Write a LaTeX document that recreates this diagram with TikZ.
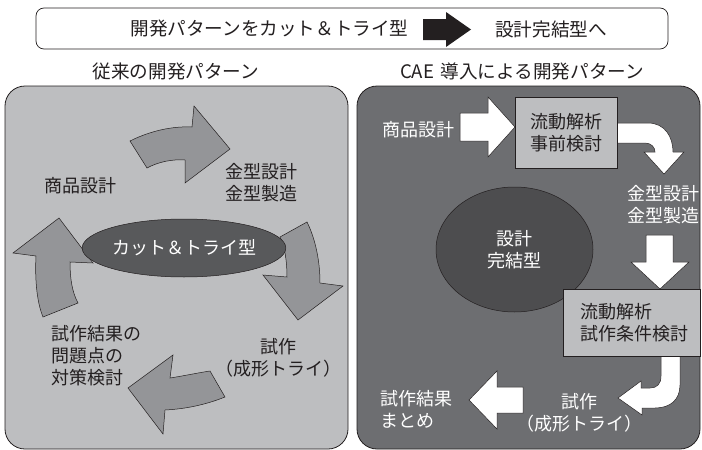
\documentclass[tikz,border=0pt]{standalone}
\usepackage{fontspec}
\setmainfont{Noto Sans CJK JP}
\usetikzlibrary{shapes.geometric}
\definecolor{ink}{RGB}{35,31,32}
\definecolor{lpanel}{RGB}{189,190,192}
\definecolor{larrow}{RGB}{148,149,152}
\definecolor{lell}{RGB}{88,89,91}
\definecolor{rpanel}{RGB}{109,110,113}
\definecolor{rell}{RGB}{77,77,79}
\definecolor{rbox}{RGB}{189,190,192}
\tikzset{
  txt/.style={font=\fontsize{18pt}{22pt}\selectfont, text=ink, inner sep=0pt, align=center},
  wtxt/.style={txt, text=white},
  head/.style={font=\fontsize{18.6pt}{22pt}\selectfont, text=ink, inner sep=0pt},
  panel/.style={draw=ink, line width=0.8pt, rounded corners=20pt},
  larr/.style={fill=larrow, draw=ink, line width=0.5pt, line join=miter},
  warr/.style={fill=white, draw=ink, line width=0.5pt, line join=miter},
  abox/.style={rectangle, fill=rbox, draw=ink, line width=0.5pt, inner sep=0pt}
}
\begin{document}
\begin{tikzpicture}[x=1pt,y=-1pt]
\useasboundingbox (0,0) rectangle (702,450);
% banner
\draw[draw=ink, line width=0.7pt, rounded corners=8pt, fill=white] (36,8) rectangle (668,49);
\node[head] (bl) at (269.5,29) {開発パターンをカット＆トライ型};
\node[head] (br) at (551,29) {設計完結型へ};
\fill[ink] (423,19) -- (446,19) -- (446,12) -- (471,29.5) -- (446,47) -- (446,40) -- (423,40) -- cycle;
% headings
\node[head] (hl) at (176,71) {従来の開発パターン};
\node[head] (hr) at (522,71) {CAE\hspace{0.35em}導入による開発パターン};
% left panel
\draw[panel, fill=lpanel] (5,86) rectangle (348,449);
\draw[larr] (130,141) .. controls (150,131) and (172,126) .. (192,127) -- (194,106) -- (230,149) -- (185,183) -- (185,160) .. controls (172,159) and (158,162) .. (147,168) -- cycle;
\draw[larr] (280,237) .. controls (285,247) and (287,262) .. (287,277) -- (263,275) -- (298,320) -- (343,286) -- (320,283) .. controls (320,260) and (315,238) .. (307,222) -- cycle;
\draw[larr] (210,371) .. controls (197,373) and (183,376) .. (170,378) -- (173,355) -- (128,388) -- (163,434) -- (165,410) .. controls (185,409) and (205,405) .. (225,397) -- cycle;
\draw[larr] (43,317) .. controls (36,300) and (35,275) .. (36,256) -- (13,253) -- (59,218) -- (93,263) -- (70,262) .. controls (70,278) and (72,292) .. (78,303) -- cycle;
\node[ellipse, fill=lell, draw=ink, line width=0.5pt, minimum width=164pt, minimum height=58pt, inner sep=0pt, wtxt] (lel) at (184,248) {カット＆トライ型};
\node[txt] (l1) at (80,186) {商品設計};
\node[txt] (l2) at (261,183) {金型設計\\金型製造};
\node[txt] (l3) at (278,358) {試作\\（成形トライ）};
\node[txt, anchor=west, align=left] (l4) at (51,356) {試作結果の\\問題点の\\対策検討};
% right panel
\draw[panel, fill=rpanel] (357,86) rectangle (700,449);
\node[ellipse, fill=rell, draw=ink, line width=0.5pt, minimum width=157pt, minimum height=125pt, inner sep=0pt, wtxt] (rel) at (514.5,249.5) {設計\\完結型};
\node[wtxt] (r1) at (418,130) {商品設計};
\draw[warr] (460,113) -- (488,113) -- (488,97) -- (515,127) -- (488,157) -- (488,141) -- (460,141) -- cycle;
\draw[warr] (612,123) -- (648,123) .. controls (665,123) and (673,137) .. (673,152) -- (684,152) -- (664,174) -- (644,152) -- (655,152) .. controls (655,147) and (651,143) .. (645,143) -- (612,143);
\node[abox, minimum width=102pt, minimum height=71pt] (b1) at (566,132.5) {};
\node[txt] (b1t) at (566,132.5) {流動解析\\事前検討};
\node[wtxt] (r2) at (663,205) {金型設計\\金型製造};
\draw[warr] (646,235) -- (673,235) -- (673,262) -- (689,262) -- (660,289) -- (631,262) -- (646,262) -- cycle;
\draw[warr] (661,350) -- (661,376) .. controls (661,384) and (657,388) .. (650,388) -- (641,388) -- (641,381) -- (618,398) -- (642,415) -- (642,408) -- (655,408) .. controls (670,408) and (680,400) .. (680,385) -- (680,350);
\node[abox, minimum width=137pt, minimum height=67pt] (b2) at (631.5,322.5) {};
\node[txt, anchor=west, align=left] (b2t) at (580,323) {流動解析\\試作条件検討};
\node[wtxt] (r3) at (579,413) {試作\\（成形トライ）};
\draw[warr] (523,387) -- (497,387) -- (497,371) -- (469,400) -- (497,429) -- (497,413) -- (523,413) -- cycle;
\node[wtxt, anchor=west, align=left] (r4) at (380,409) {試作結果\\まとめ};
\end{tikzpicture}
\end{document}
